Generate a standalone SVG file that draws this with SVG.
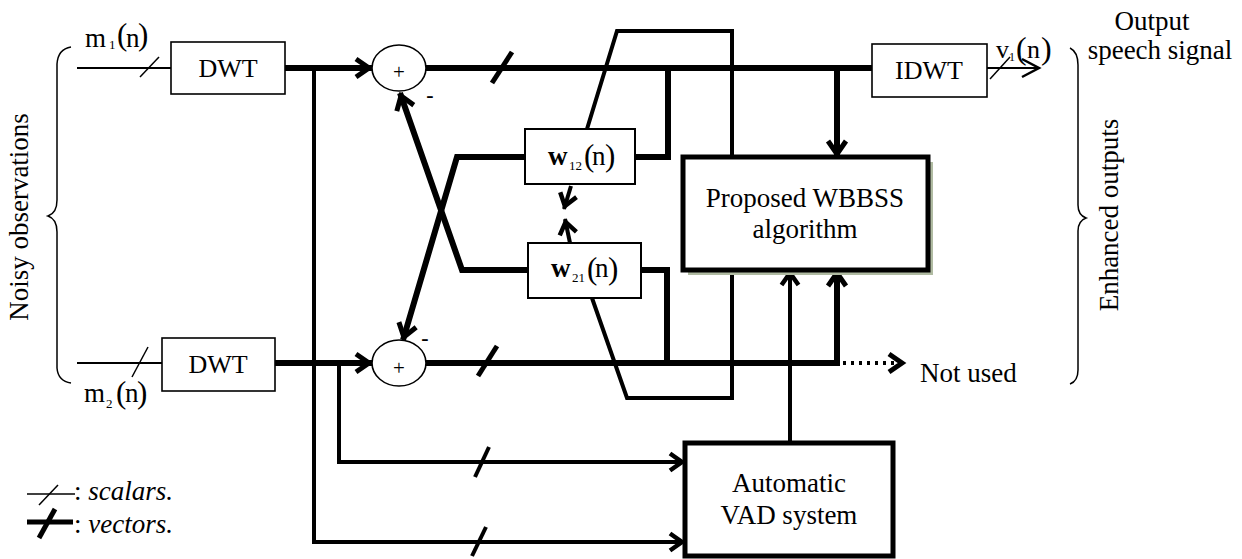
<svg xmlns="http://www.w3.org/2000/svg" width="1242" height="559" viewBox="0 0 1242 559" font-family="'Liberation Serif','Times New Roman',serif">
<style>
text{font-family:"Liberation Serif","Times New Roman",serif;fill:#000}
.t{font-size:27px}
.box{fill:#fff;stroke:#000;stroke-width:1.6}
.bbox{fill:#fff;stroke:#000;stroke-width:5}
.thick{fill:none;stroke:#000;stroke-width:6;stroke-linejoin:miter}
.med{fill:none;stroke:#000;stroke-width:4}
.thin{fill:none;stroke:#000;stroke-width:2}
.hair{fill:none;stroke:#000;stroke-width:1.5}
</style>
<defs>
<marker id="aT" markerUnits="userSpaceOnUse" orient="auto" markerWidth="30" markerHeight="30" refX="0" refY="0" viewBox="-20 -15 30 30" overflow="visible">
<path d="M-16,-9 L-3,0 L-16,9" fill="none" stroke="#000" stroke-width="5"/>
</marker>
<marker id="aM" markerUnits="userSpaceOnUse" orient="auto" markerWidth="30" markerHeight="30" refX="0" refY="0" viewBox="-20 -15 30 30" overflow="visible">
<path d="M-15,-8.5 L-3,0 L-15,8.5" fill="none" stroke="#000" stroke-width="4.5"/>
</marker>
<marker id="aS" markerUnits="userSpaceOnUse" orient="auto" markerWidth="30" markerHeight="30" refX="0" refY="0" viewBox="-20 -15 30 30" overflow="visible">
<path d="M-18,-9 L-1,0 L-18,9" fill="none" stroke="#000" stroke-width="2.5"/>
</marker>
</defs>
<rect width="1242" height="559" fill="#fff"/>

<g id="connectors">
<line class="thin" x1="77" y1="68" x2="172" y2="68"/>
<line class="hair" x1="140" y1="77" x2="159" y2="57"/>
<line class="thin" x1="77" y1="363" x2="163" y2="363"/>
<line class="hair" x1="132" y1="377" x2="148" y2="347"/>
<line class="thick" x1="285" y1="68" x2="372" y2="68" marker-end="url(#aT)"/>
<line class="thick" x1="275" y1="363" x2="372" y2="363" marker-end="url(#aT)"/>
<polyline class="med" points="314,68 314,542 685,542" marker-end="url(#aM)"/>
<line class="med" x1="472" y1="556" x2="486" y2="527"/>
<polyline class="med" points="339,363 339,462 685,462" marker-end="url(#aM)"/>
<line class="med" x1="475" y1="477" x2="489" y2="447"/>
<polyline class="med" points="587,129 617,31 732,31 732,398 627,398 592,298"/>
<line class="thick" x1="426" y1="68" x2="872" y2="68"/>
<line class="thick" x1="492" y1="83" x2="512" y2="52" style="stroke-width:5"/>
<line class="thick" x1="426" y1="363" x2="840" y2="363"/>
<line class="thick" x1="478" y1="376" x2="497" y2="346" style="stroke-width:5"/>
<line x1="843" y1="363" x2="905" y2="363" stroke="#000" stroke-width="4" stroke-dasharray="3 5" marker-end="url(#aT)"/>
<line class="thick" x1="837" y1="68" x2="837" y2="157" marker-end="url(#aT)"/>
<polyline class="thick" points="837,366 837,270" marker-end="url(#aT)"/>
<line class="med" x1="790" y1="443" x2="790" y2="270" marker-end="url(#aM)"/>
<polyline class="thick" points="668,68 668,157 635,157"/>
<polyline class="thick" points="525,157 457,157 403,340" marker-end="url(#aT)"/>
<polyline class="thick" points="667,363 667,270 641,270"/>
<polyline class="thick" points="528,270 462,270 400,93" marker-end="url(#aT)"/>
<line class="med" x1="571" y1="186" x2="564" y2="209" marker-end="url(#aM)"/>
<line class="med" x1="570" y1="243" x2="565" y2="219" marker-end="url(#aM)"/>
<line class="thin" x1="987" y1="68" x2="1040" y2="68" marker-end="url(#aS)"/>
<line class="hair" x1="990" y1="79" x2="1010" y2="57"/>
</g>

<g id="dwt1">
<rect class="box" x="171" y="42" width="114" height="52"/>
<text class="t" x="228" y="77" text-anchor="middle" style="font-size:26px">DWT</text>
</g>
<g id="dwt2">
<rect class="box" x="162" y="338" width="113" height="53"/>
<text class="t" x="218" y="373" text-anchor="middle" style="font-size:26px">DWT</text>
</g>
<g id="sum1">
<ellipse cx="399" cy="68" rx="27" ry="23" fill="#fff" stroke="#000" stroke-width="1.6"/>
<text x="399" y="79" text-anchor="middle" style="font-size:21px">+</text>
</g>
<g id="sum2">
<ellipse cx="399" cy="363" rx="27" ry="23" fill="#fff" stroke="#000" stroke-width="1.6"/>
<text x="399" y="375" text-anchor="middle" style="font-size:21px">+</text>
</g>
<g id="w12">
<rect class="box" x="525" y="129" width="110" height="55" style="stroke-width:2"/>
<text style="font-size:27px"><tspan x="548" y="165" font-weight="bold">w</tspan><tspan x="569" y="170" style="font-size:13px">12</tspan><tspan x="584" y="166" style="font-size:31px">(</tspan><tspan x="592" y="165">n</tspan><tspan x="605" y="166" style="font-size:31px">)</tspan></text>
</g>
<g id="w21">
<rect class="box" x="528" y="243" width="113" height="55" style="stroke-width:2"/>
<text style="font-size:27px"><tspan x="551" y="277" font-weight="bold">w</tspan><tspan x="572" y="282" style="font-size:13px">21</tspan><tspan x="587" y="279" style="font-size:31px">(</tspan><tspan x="595" y="277">n</tspan><tspan x="608" y="279" style="font-size:31px">)</tspan></text>
</g>
<g id="wbbss">
<rect x="688" y="162" width="245" height="113" fill="#b0bba2"/>
<rect class="bbox" x="683" y="157" width="245" height="113"/>
<text class="t" x="805" y="207" text-anchor="middle">Proposed WBBSS</text>
<text class="t" x="805" y="238" text-anchor="middle">algorithm</text>
</g>
<g id="idwt">
<rect class="box" x="872" y="44" width="115" height="53"/>
<text class="t" x="929" y="79" text-anchor="middle" style="font-size:26px">IDWT</text>
</g>
<g id="vad">
<rect class="bbox" x="685" y="443" width="208" height="113"/>
<text class="t" x="789" y="492" text-anchor="middle">Automatic</text>
<text class="t" x="789" y="524" text-anchor="middle">VAD system</text>
</g>

<g id="labels">
<text style="font-size:27px"><tspan x="85" y="47">m</tspan><tspan x="109" y="49" style="font-size:13px">1</tspan><tspan x="117" y="45" style="font-size:31px">(</tspan><tspan x="126" y="47">n</tspan><tspan x="138" y="45" style="font-size:31px">)</tspan></text>
<text style="font-size:27px"><tspan x="84" y="402">m</tspan><tspan x="106" y="408" style="font-size:13px">2</tspan><tspan x="116" y="403" style="font-size:31px">(</tspan><tspan x="125" y="402">n</tspan><tspan x="137" y="403" style="font-size:31px">)</tspan></text>
<text style="font-size:26px"><tspan x="996" y="58">v</tspan><tspan x="1009" y="61" style="font-size:12px">1</tspan><tspan x="1016" y="59" style="font-size:32px">(</tspan><tspan x="1027" y="58">n</tspan><tspan x="1041" y="59" style="font-size:32px">)</tspan></text>
<text x="430" y="102" text-anchor="middle" style="font-size:22px;font-weight:bold">-</text>
<text x="425" y="345" text-anchor="middle" style="font-size:22px;font-weight:bold">-</text>
<text class="t" x="920" y="382">Not used</text>
<text class="t" x="1152" y="30" text-anchor="middle">Output</text>
<text class="t" x="1160" y="59" text-anchor="middle">speech signal</text>
<text class="t" transform="translate(28,217) rotate(-90)" text-anchor="middle">Noisy observations</text>
<text class="t" transform="translate(1118,215) rotate(-90)" text-anchor="middle">Enhanced outputs</text>
<path class="hair" d="M71,47 Q58,49 57,64 L57,200 Q57,213 48,216 Q57,219 57,232 L57,368 Q58,381 71,383"/>
<path class="hair" d="M1070,48 Q1078,52 1078,65 L1078,205 Q1078,215 1086,218 Q1078,221 1078,231 L1078,370 Q1078,381 1070,384"/>
</g>

<g id="legend">
<line class="hair" x1="27" y1="494" x2="75" y2="494"/>
<line class="hair" x1="39" y1="505" x2="58" y2="485"/>
<text class="t" x="74" y="500">: <tspan font-style="italic">scalars.</tspan></text>
<line x1="27" y1="522" x2="73" y2="522" stroke="#000" stroke-width="5"/>
<line x1="39" y1="538" x2="55" y2="509" stroke="#000" stroke-width="5"/>
<text class="t" x="74" y="533">: <tspan font-style="italic">vectors.</tspan></text>
</g>
</svg>
